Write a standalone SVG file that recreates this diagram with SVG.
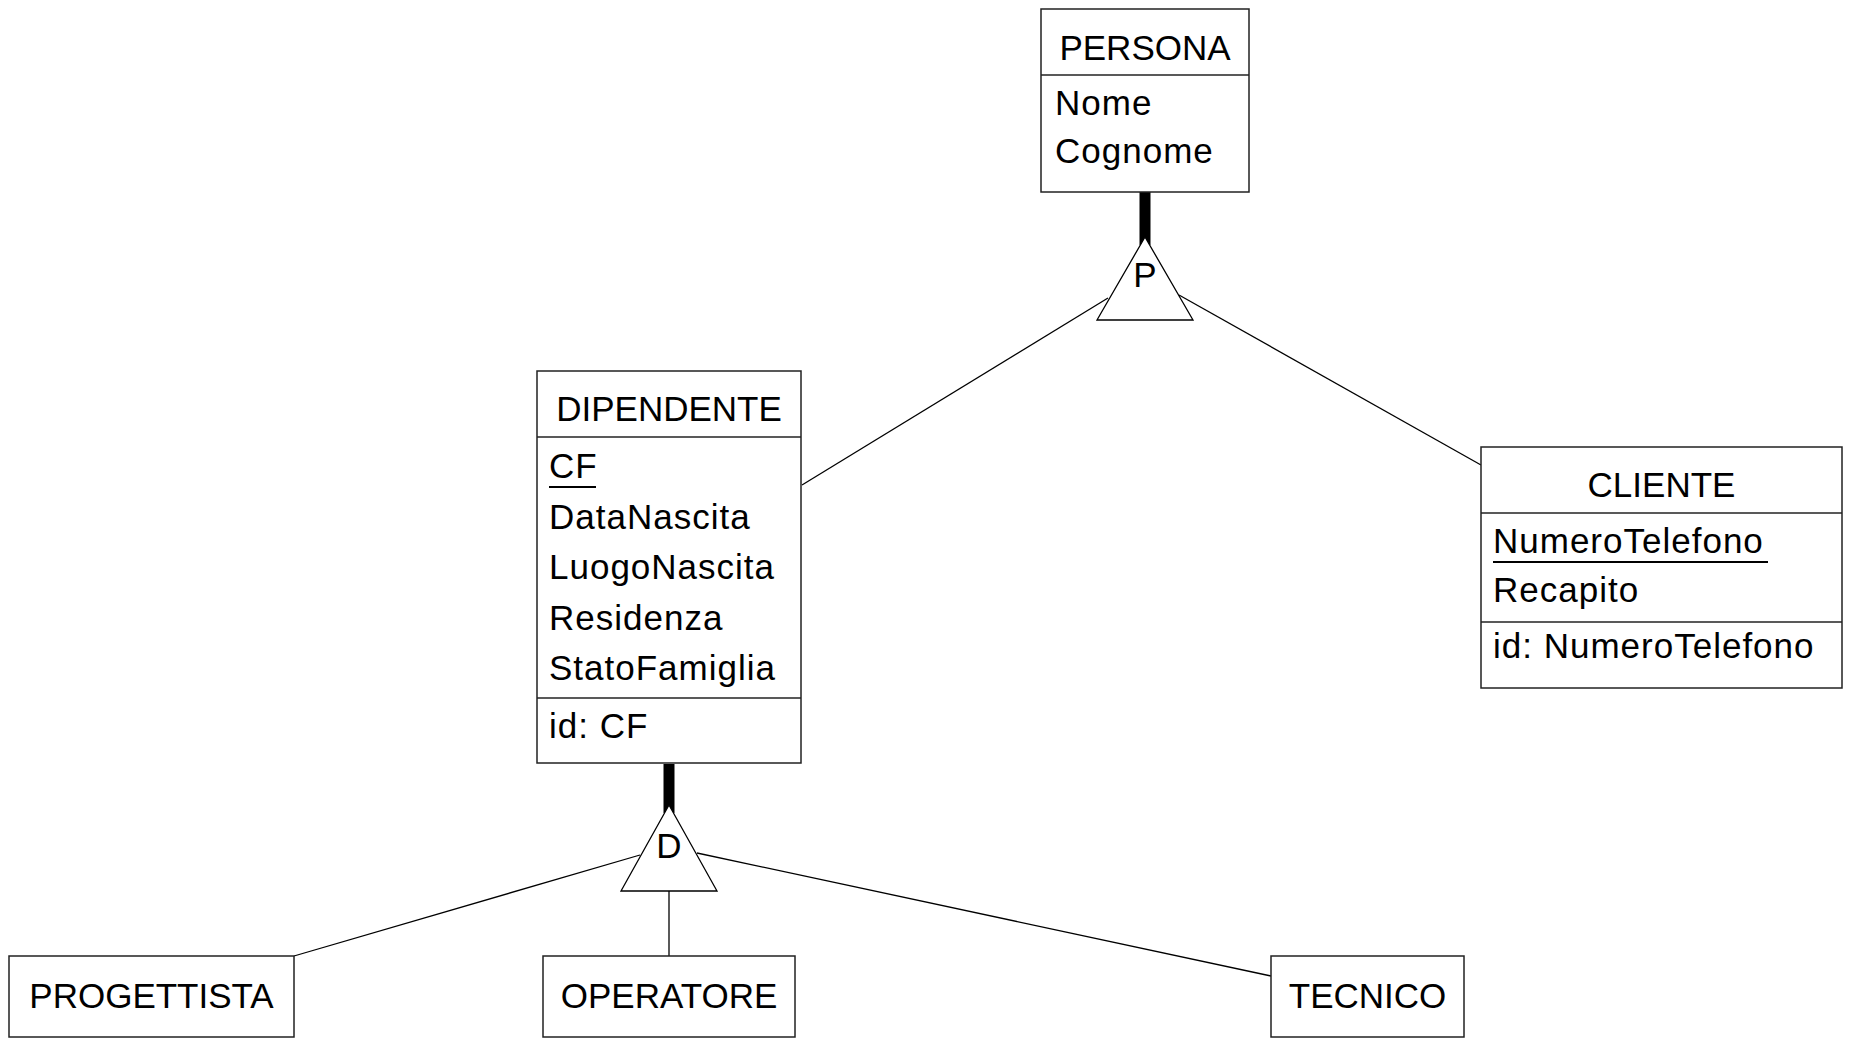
<svg xmlns="http://www.w3.org/2000/svg" width="1851" height="1047" viewBox="0 0 1851 1047">
<style>
.box{fill:#fff;stroke:#222;stroke-width:1.5}
.sep{stroke:#222;stroke-width:1.5}
.t{font-family:"Liberation Sans",Arial,sans-serif;font-size:35px;fill:#000}
.h{text-anchor:middle}
.a{letter-spacing:1px}
.ul{stroke:#000;stroke-width:2}
.c{stroke:#000;stroke-width:1.3;fill:none}
.thick{stroke:#000;stroke-width:11}
.tri{fill:#fff;stroke:#000;stroke-width:1.3}
</style>
<rect width="1851" height="1047" fill="#fff"/>
<g id="connectors">
<line class="c" x1="1108" y1="298" x2="802" y2="485"/>
<line class="c" x1="1179" y1="295" x2="1481" y2="465"/>
<line class="c" x1="640" y1="855" x2="294" y2="956"/>
<line class="c" x1="669" y1="891" x2="669" y2="956"/>
<line class="c" x1="697" y1="853" x2="1271" y2="976"/>
<line class="thick" x1="1145" y1="192" x2="1145" y2="245"/>
<line class="thick" x1="669" y1="764" x2="669" y2="813"/>
</g>
<g id="persona">
<rect class="box" x="1041" y="9" width="208" height="183"/>
<line class="sep" x1="1041" y1="75" x2="1249" y2="75"/>
<text class="t h" x="1145" y="60">PERSONA</text>
<text class="t a" x="1055" y="115">Nome</text>
<text class="t a" x="1055" y="163">Cognome</text>
</g>
<g id="isa-p">
<polygon class="tri" points="1145,237 1097,320 1193,320"/>
<text class="t h" x="1145" y="287">P</text>
</g>
<g id="dipendente">
<rect class="box" x="537" y="371" width="264" height="392"/>
<line class="sep" x1="537" y1="437" x2="801" y2="437"/>
<line class="sep" x1="537" y1="698" x2="801" y2="698"/>
<text class="t h" x="669" y="421">DIPENDENTE</text>
<text class="t a" x="549" y="478">CF</text>
<line class="ul" x1="549" y1="487" x2="596" y2="487"/>
<text class="t a" x="549" y="529">DataNascita</text>
<text class="t a" x="549" y="579">LuogoNascita</text>
<text class="t a" x="549" y="630">Residenza</text>
<text class="t a" x="549" y="680">StatoFamiglia</text>
<text class="t a" x="549" y="738">id: CF</text>
</g>
<g id="cliente">
<rect class="box" x="1481" y="447" width="361" height="241"/>
<line class="sep" x1="1481" y1="513" x2="1842" y2="513"/>
<line class="sep" x1="1481" y1="622" x2="1842" y2="622"/>
<text class="t h" x="1661.5" y="497">CLIENTE</text>
<text class="t a" x="1493" y="553">NumeroTelefono</text>
<line class="ul" x1="1493" y1="562" x2="1768" y2="562"/>
<text class="t a" x="1493" y="602">Recapito</text>
<text class="t a" x="1493" y="658">id: NumeroTelefono</text>
</g>
<g id="isa-d">
<polygon class="tri" points="669,805 621,891 717,891"/>
<text class="t h" x="669" y="858">D</text>
</g>
<g id="progettista">
<rect class="box" x="9" y="956" width="285" height="81"/>
<text class="t h" x="151.5" y="1008">PROGETTISTA</text>
</g>
<g id="operatore">
<rect class="box" x="543" y="956" width="252" height="81"/>
<text class="t h" x="669" y="1008">OPERATORE</text>
</g>
<g id="tecnico">
<rect class="box" x="1271" y="956" width="193" height="81"/>
<text class="t h" x="1367.5" y="1008">TECNICO</text>
</g>
</svg>
